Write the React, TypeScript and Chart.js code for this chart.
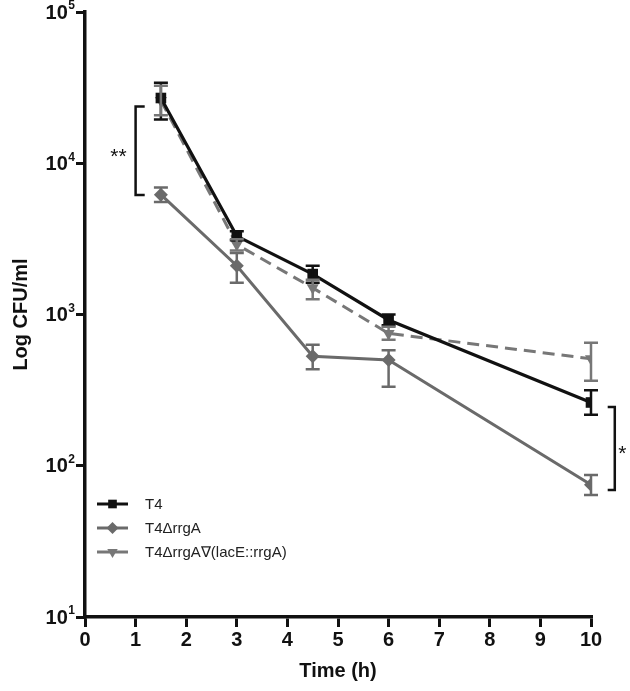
import React, { useEffect, useRef } from "react";
import { Chart, registerables } from "chart.js";

Chart.register(...registerables);

// ---- data ----
const times = [1.5, 3, 4.5, 6, 10];

const t4Mean = [27000, 3300, 1850, 920, 262];
const t4Upper = [34000, 3550, 2100, 1000, 316];
const t4Lower = [19500, 3100, 1620, 850, 217];

const rrgAMean = [6200, 2100, 530, 500, 75];
const rrgAUpper = [6900, 2550, 630, 580, 87];
const rrgALower = [5550, 1620, 435, 333, 64];

const compMean = [26000, 2900, 1500, 750, 510];
const compUpper = [32500, 3150, 1700, 830, 650];
const compLower = [20800, 2650, 1260, 680, 365];

const seriesLabels = ["T4", "T4\u0394rrgA", "T4\u0394rrgA\u2207(lacE::rrgA)"];
const xTicks = [0, 1, 2, 3, 4, 5, 6, 7, 8, 9, 10];
const yTickValues = [10, 100, 1000, 10000, 100000];
const yTickExponents = ["1", "2", "3", "4", "5"];

// significance brackets (in data units)
const brackets = [
  { x: 1.0, x2: 1.18, yTop: 23700, yBottom: 6170, label: "**", lx: 0.66, ly: 12000 },
  { x: 10.47, x2: 10.33, yTop: 245, yBottom: 69, label: "*", lx: 10.62, ly: 130 },
];

const FONT = "'Liberation Sans', Arial, sans-serif";
const BLACK = "#111111";
const GRAY1 = "#6a6a6a";
const GRAY2 = "#777777";

const errorBarPlugin = {
  id: "errorBars",
  afterDatasetsDraw(chart: any) {
    const ctx = chart.ctx;
    const yScale = chart.scales.y;
    chart.data.datasets.forEach((ds: any, di: number) => {
      const meta = chart.getDatasetMeta(di);
      ctx.save();
      ctx.strokeStyle = ds.borderColor;
      ctx.lineWidth = 2.5;
      ctx.setLineDash([]);
      meta.data.forEach((pt: any, i: number) => {
        const x = pt.x;
        const yu = yScale.getPixelForValue(ds.upper[i]);
        const yl = yScale.getPixelForValue(ds.lower[i]);
        ctx.beginPath();
        ctx.moveTo(x, yu);
        ctx.lineTo(x, yl);
        ctx.moveTo(x - 7, yu);
        ctx.lineTo(x + 7, yu);
        ctx.moveTo(x - 7, yl);
        ctx.lineTo(x + 7, yl);
        ctx.stroke();
      });
      ctx.restore();
    });
  },
};

function drawMarker(ctx: CanvasRenderingContext2D, style: string, rot: number, x: number, y: number, r: number) {
  ctx.beginPath();
  if (style === "rect") {
    const s = r * 0.72;
    ctx.rect(x - s, y - s, 2 * s, 2 * s);
  } else if (style === "rectRot") {
    ctx.moveTo(x, y - r);
    ctx.lineTo(x + r, y);
    ctx.lineTo(x, y + r);
    ctx.lineTo(x - r, y);
    ctx.closePath();
  } else {
    const sign = rot === 180 ? -1 : 1;
    ctx.moveTo(x, y - sign * r);
    ctx.lineTo(x + r * 0.87, y + sign * r * 0.5);
    ctx.lineTo(x - r * 0.87, y + sign * r * 0.5);
    ctx.closePath();
  }
  ctx.fill();
}

const annotPlugin = {
  id: "annot",
  afterDraw(chart: any) {
    const ctx = chart.ctx;
    const xs = chart.scales.x;
    const ys = chart.scales.y;
    ctx.save();
    // brackets
    brackets.forEach((b) => {
      const x = xs.getPixelForValue(b.x);
      const x2 = xs.getPixelForValue(b.x2);
      const yt = ys.getPixelForValue(b.yTop);
      const yb = ys.getPixelForValue(b.yBottom);
      ctx.strokeStyle = BLACK;
      ctx.lineWidth = 2.5;
      ctx.beginPath();
      ctx.moveTo(x2, yt);
      ctx.lineTo(x, yt);
      ctx.lineTo(x, yb);
      ctx.lineTo(x2, yb);
      ctx.stroke();
      ctx.fillStyle = BLACK;
      ctx.font = `21px ${FONT}`;
      ctx.textAlign = "center";
      ctx.textBaseline = "middle";
      ctx.fillText(b.label, xs.getPixelForValue(b.lx), ys.getPixelForValue(b.ly) + 6);
    });
    // y tick labels with superscript exponents
    yTickValues.forEach((v, i) => {
      const y = ys.getPixelForValue(v);
      const right = chart.chartArea.left - 10;
      ctx.fillStyle = BLACK;
      ctx.font = `bold 12px ${FONT}`;
      ctx.textAlign = "right";
      ctx.textBaseline = "middle";
      const ew = ctx.measureText(yTickExponents[i]).width;
      ctx.fillText(yTickExponents[i], right, y - 6);
      ctx.font = `bold 20px ${FONT}`;
      ctx.fillText("10", right - ew - 0.5, y + 1);
    });
    // legend
    const lx0 = chart.chartArea.left + 12;
    const lyStart = 504;
    const lstep = 24;
    chart.data.datasets.forEach((ds: any, i: number) => {
      const y = lyStart + i * lstep;
      ctx.strokeStyle = ds.borderColor;
      ctx.lineWidth = 3;
      ctx.setLineDash([]);
      ctx.beginPath();
      ctx.moveTo(lx0, y);
      ctx.lineTo(lx0 + 31, y);
      ctx.stroke();
      ctx.fillStyle = ds.borderColor;
      drawMarker(ctx, ds.pointStyle, ds.pointRotation || 0, lx0 + 15.5, y, 6);
      ctx.fillStyle = "#222";
      ctx.font = `15px ${FONT}`;
      ctx.textAlign = "left";
      ctx.textBaseline = "middle";
      ctx.fillText(ds.label, lx0 + 48, y + 1);
    });
    ctx.restore();
  },
};

export default function App() {
  const ref = useRef<HTMLCanvasElement | null>(null);

  useEffect(() => {
    if (!ref.current) return;
    const mk = (vals: number[]) => vals.map((v, i) => ({ x: times[i], y: v }));
    const chart = new Chart(ref.current, {
      type: "line",
      data: {
        datasets: [
          {
            label: seriesLabels[0],
            data: mk(t4Mean),
            upper: t4Upper,
            lower: t4Lower,
            borderColor: BLACK,
            backgroundColor: BLACK,
            borderWidth: 3.2,
            pointStyle: "rect",
            pointRadius: 7.5,
            pointBorderWidth: 0,
            tension: 0,
          } as any,
          {
            label: seriesLabels[1],
            data: mk(rrgAMean),
            upper: rrgAUpper,
            lower: rrgALower,
            borderColor: GRAY1,
            backgroundColor: GRAY1,
            borderWidth: 3,
            pointStyle: "rectRot",
            pointRadius: 7,
            pointBorderWidth: 0,
            tension: 0,
          } as any,
          {
            label: seriesLabels[2],
            data: mk(compMean),
            upper: compUpper,
            lower: compLower,
            borderColor: GRAY2,
            backgroundColor: GRAY2,
            borderWidth: 3,
            borderDash: [12, 7],
            pointStyle: "triangle",
            pointRotation: 180,
            pointRadius: 7,
            pointBorderWidth: 0,
            tension: 0,
          } as any,
        ],
      },
      options: {
        animation: false,
        responsive: false,
        maintainAspectRatio: false,
        layout: { padding: { top: 12, right: 39, left: 0, bottom: 0 } },
        plugins: {
          legend: { display: false },
          tooltip: { enabled: false },
        },
        scales: {
          x: {
            type: "linear",
            min: 0,
            max: 10,
            afterBuildTicks: (s: any) => {
              s.ticks = xTicks.map((v) => ({ value: v }));
            },
            afterFit: (s: any) => {
              s.height = 74;
            },
            ticks: {
              color: BLACK,
              font: { family: FONT, size: 20, weight: "bold" },
              padding: 1,
              maxRotation: 0,
            },
            grid: {
              drawOnChartArea: false,
              drawTicks: true,
              tickLength: 10,
              lineWidth: 3,
              color: BLACK,
            },
            border: { display: true, width: 3.5, color: BLACK },
            title: {
              display: true,
              text: "Time (h)",
              color: BLACK,
              font: { family: FONT, size: 20, weight: "bold" },
              padding: { top: 0, bottom: 8 },
            },
          },
          y: {
            type: "logarithmic",
            min: 10,
            max: 100000,
            afterBuildTicks: (s: any) => {
              s.ticks = yTickValues.map((v) => ({ value: v }));
            },
            afterFit: (s: any) => {
              s.width = 85;
            },
            ticks: {
              callback: () => "",
            },
            grid: {
              drawOnChartArea: false,
              drawTicks: true,
              tickLength: 9,
              lineWidth: 3,
              color: BLACK,
            },
            border: { display: true, width: 3.5, color: BLACK },
            title: {
              display: true,
              text: "Log CFU/ml",
              color: BLACK,
              font: { family: FONT, size: 20, weight: "bold" },
              padding: { top: 9, bottom: 0 },
            },
          },
        },
      } as any,
      plugins: [errorBarPlugin, annotPlugin],
    });
    return () => chart.destroy();
  }, []);

  return (
    <div style={{ position: "absolute", left: 0, top: 0, width: 630, height: 691, background: "#fff" }}>
      <canvas ref={ref} width={630} height={691} style={{ width: 630, height: 691 }} />
    </div>
  );
}
